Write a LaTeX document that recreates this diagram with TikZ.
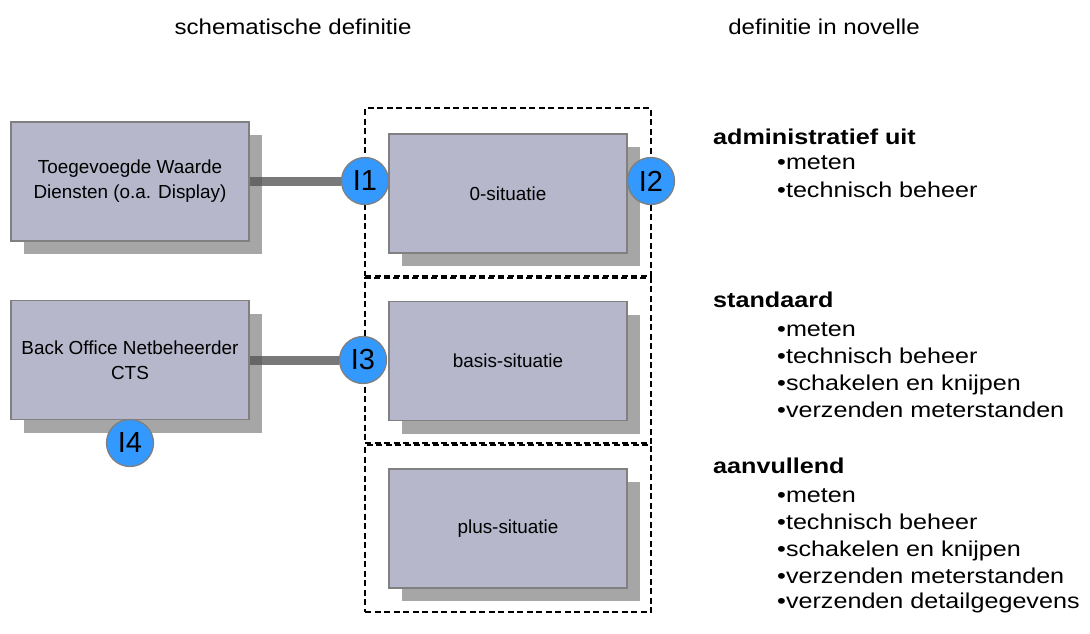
\documentclass[tikz,border=0pt]{standalone}
\usepackage{fontspec}
\setmainfont{Liberation Sans}
\newfontfamily\widefont{Liberation Sans}[FakeStretch=1.17]
\newfontfamily\titlefont{Liberation Sans}[FakeStretch=1.12]
\definecolor{boxfill}{HTML}{B6B7CB}
\definecolor{boxline}{HTML}{808080}
\definecolor{shadowc}{HTML}{A6A6A6}
\definecolor{circfill}{HTML}{3399FF}
\definecolor{circline}{HTML}{7F7F7F}
\definecolor{connc}{HTML}{575757}
\begin{document}
\begin{tikzpicture}[x=1pt,y=-1pt,
  sbox/.style={draw=boxline, line width=1.2pt, fill=boxfill, minimum width=238pt, minimum height=119pt, inner sep=0pt, align=center,
    font=\fontsize{18.9}{25}\selectfont,
    preaction={fill=shadowc, draw=none, transform canvas={xshift=13pt,yshift=-13pt}}},
  frame/.style={draw=black, line width=1.1pt, dash pattern=on 6pt off 3.5pt, minimum width=286pt, inner sep=0pt},
  iface/.style={circle, draw=circline, line width=1.3pt, fill=circfill, minimum size=47pt, inner sep=0pt, font=\fontsize{29}{29}\selectfont},
  conn/.style={draw=connc, opacity=0.8, line width=9pt},
  title/.style={anchor=base, font=\titlefont\fontsize{21.5}{26}\selectfont, inner sep=0pt},
  head/.style={anchor=base west, font=\widefont\bfseries\fontsize{21.5}{26}\selectfont, inner sep=0pt},
  item/.style={anchor=base west, font=\widefont\fontsize{21.5}{26}\selectfont, inner sep=0pt}
]
\useasboundingbox (0,0) rectangle (1090,633);

% titles
\node[title] (t1) at (293,34) {schematische definitie};
\node[title] (t2) at (824,34) {definitie in novelle};

% dashed frames
\node[frame, minimum height=168pt] (f1) at (508,192) {};
\node[frame, minimum height=165pt] (f2) at (508,360.5) {};
\node[frame, minimum height=167pt] (f3) at (508,528.5) {};

% boxes
\node[sbox] (b1) at (130,181.5) {Toegevoegde Waarde\\Diensten (o.a. Display)};
\node[sbox] (b2) at (130,360) {Back Office Netbeheerder\\CTS};
\node[sbox] (s0) at (508,193.5) {0-situatie};
\node[sbox] (s1) at (508,361) {basis-situatie};
\node[sbox] (s2) at (508,528.5) {plus-situatie};

% interface circles
\node[iface] (i1) at (365,181) {I1};
\node[iface] (i2) at (651,181) {I2};
\node[iface] (i3) at (363,360) {I3};
\node[iface] (i4) at (130,443) {I4};

% connectors
\draw[conn] (b1.east |- i1) -- (i1.west);
\draw[conn] (b2.east |- i3) -- (i3.west);

% right-hand text
\node[head] (h1) at (713,144) {administratief uit};
\node[item] (h1a) at (777,169) {•meten};
\node[item] (h1b) at (777,197) {•technisch beheer};

\node[head] (h2) at (713,307) {standaard};
\node[item] (h2a) at (777,336) {•meten};
\node[item] (h2b) at (777,363) {•technisch beheer};
\node[item] (h2c) at (777,390) {•schakelen en knijpen};
\node[item] (h2d) at (777,417) {•verzenden meterstanden};

\node[head] (h3) at (713,473) {aanvullend};
\node[item] (h3a) at (777,502) {•meten};
\node[item] (h3b) at (777,529) {•technisch beheer};
\node[item] (h3c) at (777,556) {•schakelen en knijpen};
\node[item] (h3d) at (777,583) {•verzenden meterstanden};
\node[item] (h3e) at (777,608) {•verzenden detailgegevens};
\end{tikzpicture}
\end{document}
